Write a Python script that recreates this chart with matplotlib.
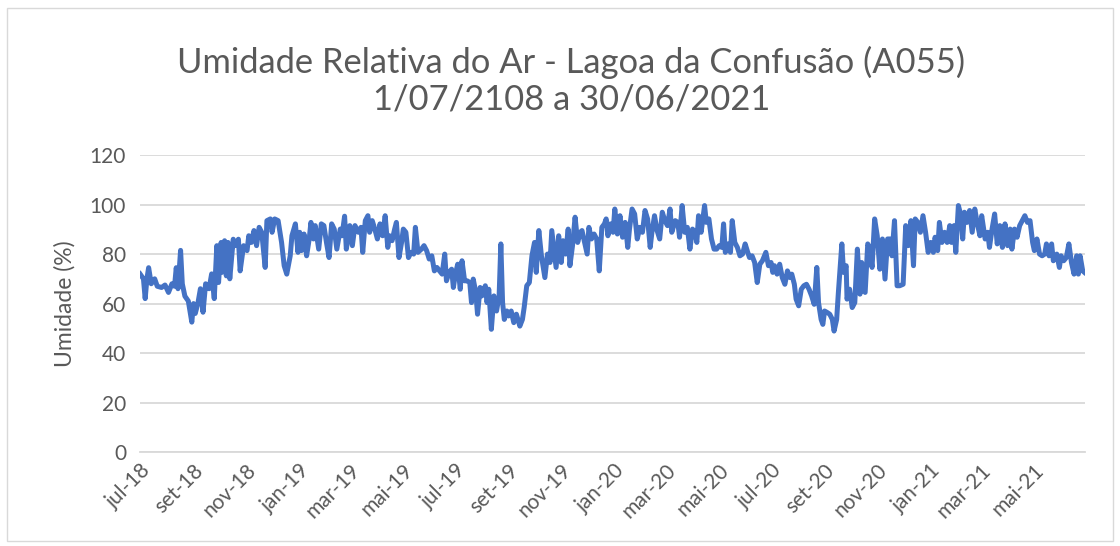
import matplotlib
matplotlib.use("Agg")
import matplotlib.pyplot as plt
from matplotlib.patches import Rectangle
import pandas as pd

# dias contados a partir de 01/07/2018 e umidade relativa (%)
dias = [0, 4, 6, 8, 10, 13, 17, 20, 25, 29, 33, 37, 40, 42, 44, 47, 49, 52, 56, 60,
        62, 64, 67, 70, 73, 76, 80, 83, 86, 89, 91, 94, 95, 98, 100, 102, 104, 108,
        110, 114, 116, 120, 124, 126, 129, 132, 135, 138, 141, 145, 147, 151, 153,
        156, 160, 164, 167, 170, 174, 176,
        180, 183, 185, 187, 190, 193, 196, 198, 201, 203, 207, 210, 213, 216, 219,
        222, 225, 228, 232, 234, 237, 239, 243, 246, 249, 253, 256, 258, 261, 264,
        266, 269,
        272, 275, 278, 281, 284, 287, 289, 292, 295, 297, 300, 303, 305, 308, 311,
        314, 317, 319, 322, 326, 329, 332, 335, 338, 341, 344, 347, 350, 353, 355,
        358, 361, 363,
        365, 368, 371, 373, 376, 379, 382, 384, 386, 389, 391, 394, 396, 400, 402,
        404, 407, 410, 413, 416, 418, 420, 422, 425, 427, 430, 433, 436, 440, 443,
        445, 448, 451, 454, 457,
        459, 462, 465, 469, 472, 475, 477, 480, 482, 485, 488, 490, 493, 496, 498,
        501, 504, 507, 510, 512, 515, 518, 520, 523, 526, 529, 532, 535, 538, 540,
        542, 545, 548,
        550, 553, 556, 559, 562, 565, 567, 570, 573, 576, 579, 582, 585, 588, 591,
        593, 596, 599, 602, 605, 608, 611, 614, 616, 620, 623, 625, 628, 631, 634,
        637, 640,
        643, 645, 647, 650, 654, 656, 659, 662, 665, 668, 671, 674, 676, 678, 681,
        684, 686, 689, 692, 695, 698, 701, 704, 706, 709, 712, 715, 718, 721, 725,
        728, 731, 733,
        735, 738, 741, 744, 747, 750, 753, 755, 758, 760, 763, 766, 769, 772, 775,
        778, 781, 784, 786, 789, 791, 793, 796, 799, 802, 804, 807, 809, 813, 815,
        818, 819, 822, 825,
        828, 831, 834, 836, 840, 843, 845, 848, 851, 854, 857, 860, 863, 866, 869,
        871, 874, 877, 880, 884, 887, 890, 893, 896, 898, 901, 904, 907, 910, 913,
        916, 919,
        921, 924, 926, 929, 932, 935, 938, 940, 943, 945, 948, 951, 953, 955, 958,
        961, 964, 967, 970, 973, 975, 979, 982, 984, 987, 990, 993, 996, 999, 1002,
        1005,
        1008, 1010, 1013, 1016, 1019, 1022, 1025, 1028, 1031, 1034, 1036, 1039, 1042,
        1045, 1048, 1050, 1053, 1056, 1058, 1062, 1065, 1067, 1070, 1073, 1076, 1079,
        1082, 1085, 1087, 1089, 1092, 1094]

umidade = [72, 70, 62, 70, 74.5, 68, 70, 67, 66.5, 67.5, 64.5, 68, 67, 74.5, 66, 81.5,
           68, 63, 61, 52.5, 60, 56, 60, 66, 56.5, 68, 66, 72, 62, 83.4, 68.5, 84.7,
           72.6, 85.4, 71.2, 84.7, 70, 86, 83.4, 86, 73.2, 83.4, 81.4, 87.4, 84.7,
           89.5, 83.4, 90.8, 88.8, 74.6, 93.5, 94.2, 88.8, 94.2, 93.5, 84.7, 75.3,
           71.9, 79.3, 87.4,
           92.2, 80.7, 88.8, 81.4, 88.1, 79.3, 86.1, 92.8, 86.1, 91.5, 82.0, 92.2,
           91.5, 84.7, 78.6, 92.2, 90.1, 82.0, 90.1, 87.4, 95.3, 82, 91.5, 83.4, 91.5,
           88.8, 90.8, 80.7, 93.5, 95.5, 88.8, 93.5,
           90.1, 86.1, 92.2, 87.4, 95.5, 82.7, 87.4, 85.4, 90.1, 92.8, 78.6, 84.7,
           90.1, 88.8, 78.6, 80.7, 80.0, 90.8, 80.7, 82.0, 83.4, 81.4, 78.0, 79.3,
           73.2, 74.6, 73.2, 71.9, 80.0, 69.2, 72.6, 73.9, 66.5,
           71.2, 75.9, 65.8, 77.3, 69.2, 69.2, 68.5, 60.4, 69.9, 64.5, 55.7, 66.5,
           63.1, 67.2, 60.4, 65.8, 49.6, 63.1, 57.0, 63.1, 84.1, 60.4, 53.6, 57.0,
           55.0, 57.0, 52.3, 55.7, 50.9, 53.6, 58.4, 67.2, 68.5, 79.3, 84.7,
           72.6, 89.5, 79.3, 70.5, 80.0, 76.6, 89.5, 80.7, 74.6, 87.4, 76.6, 85.4,
           80.0, 90.1, 75.3, 83.4, 94.9, 84.7, 88.8, 89.5, 84.7, 80.0, 90.8, 86.1,
           88.1, 86.1, 73.2, 90.8, 92.2, 94.2, 87.4, 92.2, 88.8,
           98.2, 88.1, 95.5, 86.8, 92.8, 82.7, 90.1, 98.2, 96.2, 86.1, 90.8, 88.8,
           97.6, 94.2, 82.7, 88.8, 95.5, 89.5, 86.1, 96.9, 93.5, 91.5, 98.2, 88.8,
           93.5, 92.8, 86.8, 99.6, 88.8, 90.8, 82.0, 90.1,
           88.8, 84.7, 95.5, 88.8, 99.6, 92.8, 94.2, 86.1, 82.0, 82.0, 83.4, 82.7,
           92.2, 80.7, 84.1, 80.7, 93.5, 84.7, 82.7, 79.3, 80.0, 84.1, 80.7, 78.6,
           79.3, 76.6, 68.5, 75.9, 77.3, 80.7, 75.3, 76.6, 72.6,
           75.3, 71.9, 75.9, 70.5, 67.8, 73.2, 70.5, 71.9, 67.8, 61.8, 59.1, 65.8,
           67.2, 67.8, 65.8, 63.1, 59.7, 74.6, 60.4, 53.6, 51.6, 57.0, 56.4, 55.7,
           53.6, 48.9, 53.6, 64.5, 84.1, 72.6, 75.3, 61.8, 65.8, 58.4,
           60.4, 82.0, 63.8, 76.6, 64.5, 84.1, 82.7, 74.6, 94.2, 87.4, 73.9, 86.1,
           69.9, 86.1, 86.1, 79.3, 93.5, 67.2, 67.2, 67.8, 91.5, 83.4, 93.5, 75.3,
           94.2, 92.8, 88.8, 95.5, 88.8, 80.7, 84.7, 80.7,
           86.8, 81.4, 92.8, 84.7, 88.8, 84.7, 91.5, 84.7, 91.5, 80.7, 99.6, 95.5,
           86.1, 96.9, 92.8, 97.6, 88.8, 98.2, 92.2, 87.4, 95.5, 86.1, 88.8, 82.7,
           90.1, 96.2, 84.1, 91.5, 82.7, 92.2, 83.4,
           90.1, 82.0, 90.1, 86.8, 91.5, 93.5, 95.5, 92.8, 93.5, 84.7, 81.4, 86.1,
           80.0, 79.3, 80.0, 84.1, 79.3, 84.1, 77.3, 80.0, 74.6, 79.3, 77.3, 78.6,
           84.1, 76.6, 71.9, 79.3, 71.9, 79.3, 73.2, 72.6]

meses_ticks = ["2018-07-01", "2018-09-01", "2018-11-01", "2019-01-01", "2019-03-01",
               "2019-05-01", "2019-07-01", "2019-09-01", "2019-11-01", "2020-01-01",
               "2020-03-01", "2020-05-01", "2020-07-01", "2020-09-01", "2020-11-01",
               "2021-01-01", "2021-03-01", "2021-05-01"]
rotulos = ["jul-18", "set-18", "nov-18", "jan-19", "mar-19", "mai-19", "jul-19",
           "set-19", "nov-19", "jan-20", "mar-20", "mai-20", "jul-20", "set-20",
           "nov-20", "jan-21", "mar-21", "mai-21"]
y_ticks = [0, 20, 40, 60, 80, 100, 120]

inicio = pd.Timestamp("2018-07-01")
datas = inicio + pd.to_timedelta(dias, unit="D")

cinza = "#595959"
plt.rcParams["font.family"] = ["Lato", "DejaVu Sans"]

fig = plt.figure(figsize=(11.2, 5.46), dpi=100)
ax = fig.add_axes([0.125, 0.172, 0.844, 0.544])

ax.plot(datas, umidade, color="#4472C4", lw=3.6, solid_joinstyle="round")

ax.set_xlim(inicio, pd.Timestamp("2021-06-30"))
ax.set_ylim(0, 120)
ax.set_yticks(y_ticks)
ax.set_xticks(pd.to_datetime(meses_ticks))
ax.set_xticklabels(rotulos, rotation=45, ha="right", rotation_mode="anchor")
ax.tick_params(axis="both", length=0, labelsize=15, colors=cinza, pad=10)
ax.tick_params(axis="x", pad=6)

ax.grid(axis="y", color="#D9D9D9", lw=1.3)
ax.set_axisbelow(True)
for s in ["top", "right", "left"]:
    ax.spines[s].set_visible(False)
ax.spines["bottom"].set_color("#D9D9D9")
ax.spines["bottom"].set_linewidth(1.3)

ax.set_ylabel("Umidade (%)", fontsize=16.5, color=cinza, labelpad=10)

fig.text(0.51, 0.852, "Umidade Relativa do Ar - Lagoa da Confusão (A055)\n1/07/2108 a 30/06/2021",
         ha="center", va="center", fontsize=24.8, color=cinza, linespacing=1.2)

fig.patches.append(Rectangle((0.006, 0.01), 0.988, 0.975, transform=fig.transFigure,
                             fill=False, edgecolor="#D9D9D9", lw=1))

fig.savefig("out.png", dpi=100)
